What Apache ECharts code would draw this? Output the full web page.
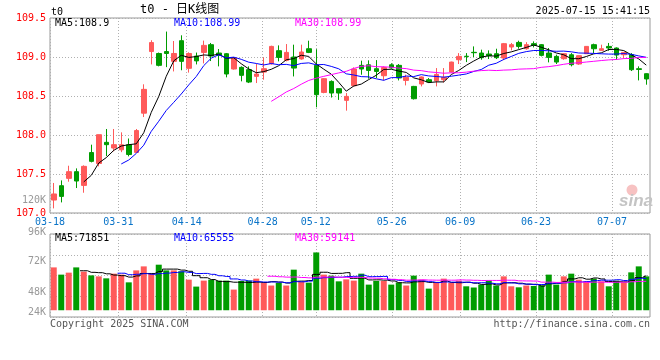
<!DOCTYPE html>
<html><head><meta charset="utf-8">
<script src="https://cdn.jsdelivr.net/npm/echarts@6/dist/echarts.min.js"></script>
<style>html,body{margin:0;padding:0;background:#fff}#c{width:660px;height:360px}</style>
</head><body><div id="c"></div>
<script>
// ---------- data ----------
const dates = ['03-18','03-19','03-20','03-21','03-24','03-25','03-26','03-27','03-28','03-31',
'04-01','04-02','04-03','04-07','04-08','04-09','04-10','04-11','04-14','04-15',
'04-16','04-17','04-18','04-21','04-22','04-23','04-24','04-25','04-28','04-29',
'04-30','05-06','05-07','05-08','05-09','05-12','05-13','05-14','05-15','05-16',
'05-19','05-20','05-21','05-22','05-23','05-26','05-27','05-28','05-29','05-30',
'06-03','06-04','06-05','06-06','06-09','06-10','06-11','06-12','06-13','06-16',
'06-17','06-18','06-19','06-20','06-23','06-24','06-25','06-26','06-27','06-30',
'07-01','07-02','07-03','07-04','07-07','07-08','07-09','07-10','07-11','07-14'];
const opens = [107.166,107.35,107.444,107.53,107.354,107.775,107.635,107.906,107.833,107.81,
107.874,107.777,108.28,109.07,109.045,109.07,108.944,109.209,108.855,109.012,
109.059,109.158,109.051,109.042,108.846,108.867,108.838,108.752,108.807,108.914,
109.081,108.957,109.0,108.975,109.106,108.893,108.546,108.687,108.594,108.444,
108.632,108.893,108.90,108.85,108.76,108.90,108.893,108.70,108.623,108.654,
108.709,108.695,108.709,108.808,108.965,109.01,109.06,109.051,109.038,109.042,
108.987,109.128,109.187,109.106,109.171,109.158,109.051,109.008,108.978,109.029,
108.91,109.042,109.158,109.085,109.136,109.115,109.029,109.029,108.85,108.786];
const closes = [107.244,107.213,107.53,107.41,107.598,107.662,108.004,107.876,107.876,107.875,
107.75,108.057,108.585,109.185,108.893,109.045,109.045,108.944,109.045,108.95,
109.149,109.012,109.021,108.782,108.987,108.765,108.679,108.782,108.85,109.136,
108.995,109.059,108.858,109.064,109.059,108.517,108.722,108.538,108.538,108.495,
108.846,108.846,108.828,108.815,108.865,108.86,108.731,108.74,108.465,108.744,
108.679,108.777,108.739,108.935,109.008,109.005,109.055,108.991,109.017,108.991,
109.171,109.158,109.136,109.158,109.15,109.021,108.995,108.935,109.042,108.901,
109.017,109.136,109.106,109.106,109.115,109.025,109.059,108.837,108.84,108.718];
const lows = [107.059,107.136,107.401,107.32,107.26,107.649,107.598,107.73,107.79,107.78,
107.726,107.768,108.23,108.905,108.88,108.87,108.815,108.83,108.8,108.905,
108.918,108.948,108.88,108.739,108.838,108.688,108.666,108.666,108.709,108.901,
108.944,108.944,108.751,108.965,109.05,108.355,108.535,108.48,108.45,108.312,
108.62,108.773,108.722,108.73,108.70,108.85,108.70,108.636,108.455,108.623,
108.666,108.623,108.674,108.80,108.91,108.935,109.0,108.965,108.974,108.974,
108.96,109.085,109.106,109.094,109.123,109.008,108.931,108.91,108.965,108.88,
108.9,109.04,109.051,109.085,109.08,108.965,108.98,108.82,108.70,108.645];
const highs = [107.385,107.418,107.606,107.572,107.611,107.876,108.006,108.077,108.077,108.034,
107.955,108.077,108.65,109.215,109.057,109.326,109.205,109.278,109.06,109.057,
109.21,109.18,109.102,109.051,109.0,108.88,108.88,108.91,108.995,109.145,
109.149,109.166,109.158,109.158,109.209,109.1,108.73,108.70,108.594,108.538,
108.867,108.953,108.957,108.96,108.88,108.92,108.91,108.773,108.63,108.751,
108.73,108.858,108.858,108.94,109.05,109.05,109.136,109.094,109.085,109.106,
109.18,109.18,109.209,109.19,109.2,109.166,109.115,109.03,109.05,109.05,
109.02,109.14,109.171,109.158,109.18,109.123,109.06,109.05,108.88,108.79];
const volumes = [88800,73800,77900,88800,80000,72300,70200,66100,75800,73800,
57800,82600,90900,75800,94400,82600,82600,80600,63400,49000,
61400,63400,61400,61400,42800,60700,61400,65500,57200,51200,
56600,51200,84100,58900,57200,119800,73800,71700,59900,64000,
61400,75800,53100,60700,60700,53100,57600,51200,71700,63400,
44800,57200,65500,56600,61400,49600,47100,53100,61400,51200,
70200,49600,47500,51200,50200,51700,73800,53100,70200,75800,
63400,59300,65500,59900,49600,61400,57800,78500,90900,70200];
const xTickLabels = ['03-18','03-31','04-14','04-28','05-12','05-26','06-09','06-23','07-07'];
const priceTicks = [107.0,107.5,108.0,108.5,109.0,109.5];
const volTickLabels = ['24K','48K','','72K','96K'];
const priceMaLabels = ['MA5:108.9','MA10:108.99','MA30:108.99'];
const volMaLabels = ['MA5:71851','MA10:65555','MA30:59141'];
const maPeriods = [5,10,30];
const titleText = 't0 - 日K线图';
const codeText = 't0';
const timeText = '2025-07-15 15:41:15';
const extraVolLabel = '120K';

// ---------- styles ----------
const RED = '#ff5a5a', GREEN = '#009c00';
const MA_COLORS = ['#000000','#0000ff','#ff00ff'];
const MONO = "'DejaVu Sans Mono', 'Liberation Mono', monospace";
const GRID_LINE = {show:true, lineStyle:{color:'#b0b0b0', type:[1,2], width:1}};

function ma(arr, n){
  return arr.map((_, i) => {
    if (i < n - 1) return '-';
    let s = 0; for (let k = i - n + 1; k <= i; k++) s += arr[k];
    return s / n;
  });
}
const candles = dates.map((d, i) => [opens[i], closes[i], lows[i], highs[i]]);
const isUp = dates.map((d, i) => closes[i] > opens[i] || (closes[i] === opens[i] && (i === 0 || closes[i] >= closes[i-1])));
const tickIdx = xTickLabels.map(l => dates.indexOf(l));
const lastIdx = dates.length - 1;

const volLabelStyle = {4:'a', 3:'t', 1:'m', 0:'b'};

const chart = echarts.init(document.getElementById('c'), null, {renderer:'canvas'});
const series = [{
  type:'candlestick', xAxisIndex:0, yAxisIndex:0, data:candles, barWidth:5,
  itemStyle:{color:RED, color0:GREEN, borderColor:RED, borderColor0:GREEN, borderWidth:1}
}];
maPeriods.forEach((p, k) => series.push({
  type:'line', xAxisIndex:0, yAxisIndex:0, data:ma(closes, p), showSymbol:false, symbol:'none',
  lineStyle:{color:MA_COLORS[k], width:1}, z:5
}));
series.push({
  type:'bar', xAxisIndex:2, yAxisIndex:1, data:volumes, barWidth:6,
  itemStyle:{color: p => isUp[p.dataIndex] ? RED : GREEN}
});
maPeriods.forEach((p, k) => series.push({
  type:'line', xAxisIndex:2, yAxisIndex:1, data:ma(volumes, p), showSymbol:false, symbol:'none', step:'middle',
  lineStyle:{color:MA_COLORS[k], width:1}, z:5
}));

const texts = [];
function txt(t, x, y, color, opt){
  texts.push(Object.assign({type:'text', x, y, z:100, silent:true,
    style:Object.assign({text:t, fill:color, font:'10px ' + MONO, textAlign:'left', verticalAlign:'middle'}, opt||{})}));
}
txt(codeText, 51, 12, '#000');
txt(titleText, 140, 9.5, '#000', {font:"12px 'DejaVu Sans Mono', 'Noto Sans CJK SC'"});
txt(timeText, 650, 11.5, '#000', {textAlign:'right'});
const maX = [55, 174, 295];
priceMaLabels.forEach((t, k) => txt(t, maX[k], 23.5, MA_COLORS[k]));
volMaLabels.forEach((t, k) => txt(t, maX[k], 238, MA_COLORS[k]));
txt(extraVolLabel, 46, 200.5, '#999', {textAlign:'right'});
txt('Copyright 2025 SINA.COM', 50, 324, '#555');
txt('http://finance.sina.com.cn', 650, 324, '#555', {textAlign:'right'});
texts.push({type:'circle', shape:{cx:632, cy:190, r:5.5}, style:{fill:'#f7c2c2'}, z:1, silent:true});
texts.push({type:'text', x:619, y:201, z:1, silent:true,
  style:{text:'sina', fill:'#c4c4c4', font:"italic bold 17px 'Liberation Sans'", verticalAlign:'middle'}});

chart.setOption({
  animation:false,
  textStyle:{fontFamily:MONO},
  grid:[
    {left:50, right:10, top:18, height:195, show:true, borderColor:'#999', borderWidth:1, outerBoundsMode:'none'},
    {left:50, right:10, top:234, height:83, show:true, borderColor:'#999', borderWidth:1, outerBoundsMode:'none'}
  ],
  xAxis:[
    {type:'category', gridIndex:0, data:dates, boundaryGap:true, axisLine:{show:false}, axisTick:{show:false}, axisLabel:{show:false}, splitLine:{show:false}},
    {type:'value', gridIndex:0, min:0, max:lastIdx, position:'bottom', axisLine:{show:false},
      axisTick:{show:false, customValues:tickIdx},
      axisLabel:{customValues:tickIdx, showMinLabel:true, showMaxLabel:true, formatter:v => dates[v], color:'#0a74c8', fontSize:10, fontFamily:MONO, margin:4},
      splitLine:GRID_LINE},
    {type:'category', gridIndex:1, data:dates, boundaryGap:true, axisLine:{show:false}, axisTick:{show:false}, axisLabel:{show:false}, splitLine:{show:false}},
    {type:'value', gridIndex:1, min:0, max:lastIdx, axisLine:{show:false},
      axisTick:{show:false, customValues:tickIdx}, axisLabel:{show:false}, splitLine:GRID_LINE}
  ],
  yAxis:[
    {type:'value', gridIndex:0, position:'left', min:priceTicks[0], max:priceTicks[priceTicks.length-1], interval:0.5,
      axisLine:{show:false}, axisTick:{show:false},
      axisLabel:{color:'#ff0000', fontSize:10, fontFamily:MONO, margin:4, formatter:v => v.toFixed(1)},
      splitLine:GRID_LINE},
    {type:'value', gridIndex:1, position:'right', min:-14000, max:158000, show:false, splitLine:{show:false}},
    {type:'value', gridIndex:1, position:'left', min:0, max:volTickLabels.length-1, interval:1,
      axisLine:{show:false}, axisTick:{show:false},
      axisLabel:{color:'#999', fontSize:10, fontFamily:MONO, margin:4,
        formatter:v => volTickLabels[v] ? '{' + volLabelStyle[v] + '|' + volTickLabels[v] + '}' : '',
        rich:{
          a:{color:'#999', fontSize:10, fontFamily:MONO, padding:[0,0,4,0]},
          t:{color:'#999', fontSize:10, fontFamily:MONO, padding:[14,0,0,0]},
          m:{color:'#999', fontSize:10, fontFamily:MONO, padding:[0,0,8,0]},
          b:{color:'#999', fontSize:10, fontFamily:MONO, padding:[0,0,10,0]}
        }},
      splitLine:GRID_LINE}
  ],
  series:series,
  graphic:texts
});
</script></body></html>
